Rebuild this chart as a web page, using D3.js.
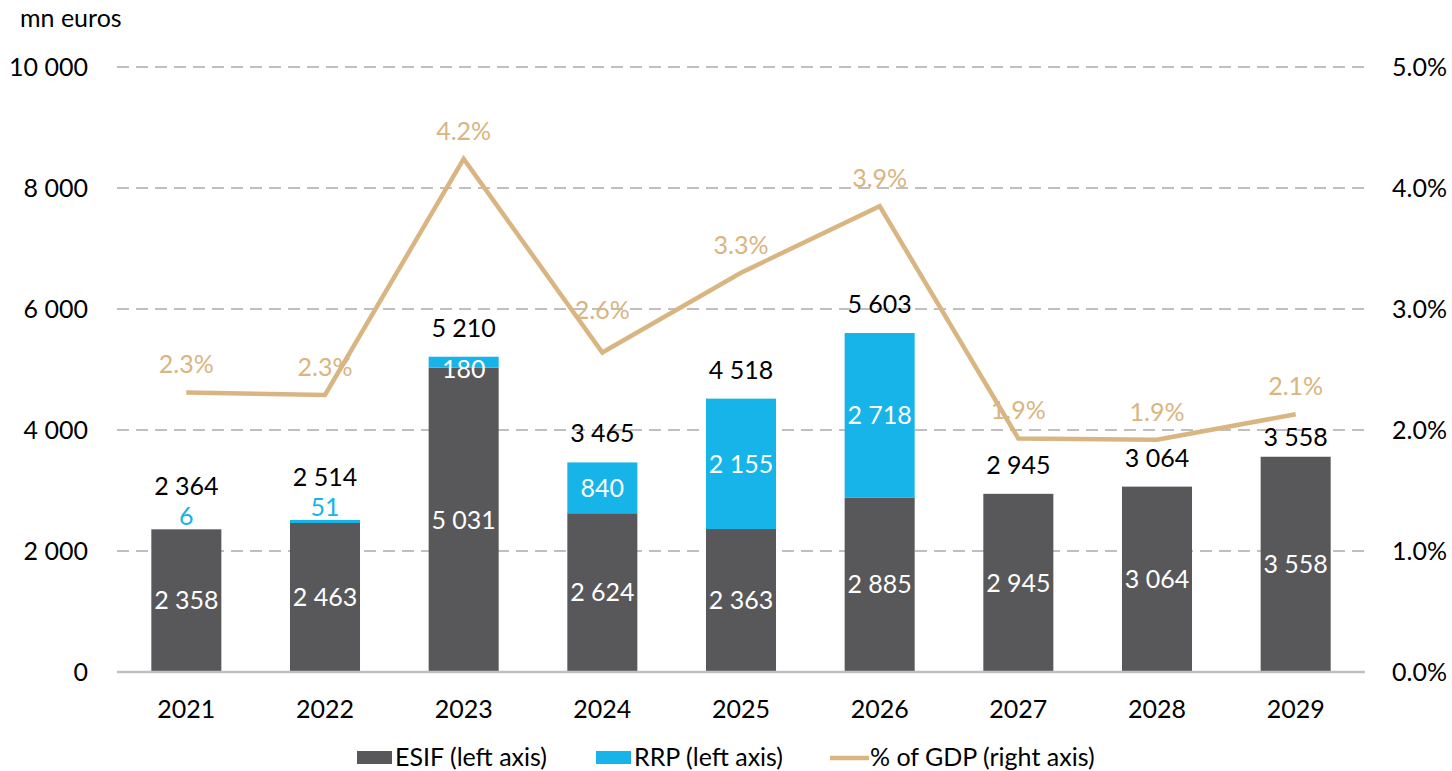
<!DOCTYPE html>
<html>
<head>
<meta charset="utf-8">
<script src="https://cdn.jsdelivr.net/npm/d3@7"></script>
<style>
  html, body { margin: 0; padding: 0; background: #fff; }
  svg { display: block; font-family: Lato, "Open Sans", sans-serif; }
</style>
</head>
<body>
<svg id="chart" width="1452" height="771"></svg>
<script>
const years = ["2021","2022","2023","2024","2025","2026","2027","2028","2029"];
const esif = [2358, 2463, 5031, 2624, 2363, 2885, 2945, 3064, 3558];
const rrp = [6, 51, 180, 840, 2155, 2718, 0, 0, 0];
const totals = [2364, 2514, 5210, 3465, 4518, 5603, 2945, 3064, 3558];
const gdpPct = [2.31, 2.29, 4.24, 2.64, 3.30, 3.85, 1.93, 1.92, 2.13];
const leftTicks = [0, 2000, 4000, 6000, 8000, 10000];
const rightTicks = [0, 1, 2, 3, 4, 5];
const seriesNames = ["ESIF (left axis)", "RRP (left axis)", "% of GDP (right axis)"];

const C_ESIF = "#58585A", C_RRP = "#16B4E8", C_LINE = "#D9B582", C_GRID = "#BFBFBF";
const FS = 25;
const svg = d3.select("#chart");

const x = d3.scaleBand().domain(years).range([117, 1365]).paddingInner(0.495).paddingOuter(0.2475);
const yL = d3.scaleLinear().domain([0, 10000]).range([672, 67]);
const yR = d3.scaleLinear().domain([0, 5]).range([672, 67]);
const fmt = v => d3.format(",")(v).replace(/,/g, " ");

// gridlines
svg.append("g").selectAll("line").data(leftTicks.filter(d => d > 0)).join("line")
  .attr("x1", 117).attr("x2", 1365)
  .attr("y1", d => yL(d)).attr("y2", d => yL(d))
  .attr("stroke", C_GRID).attr("stroke-width", 2).attr("stroke-dasharray", "12,7");

// left axis
const axL = svg.append("g").attr("transform", "translate(117,0)")
  .call(d3.axisLeft(yL).tickValues(leftTicks).tickSize(0).tickPadding(29).tickFormat(fmt));
axL.select(".domain").remove();
axL.selectAll("text").attr("font-size", FS).attr("fill", "#000").attr("font-family", "Lato");

// right axis
const axR = svg.append("g").attr("transform", "translate(1365,0)")
  .call(d3.axisRight(yR).tickValues(rightTicks).tickSize(0).tickPadding(27).tickFormat(d => d.toFixed(1) + "%"));
axR.select(".domain").remove();
axR.selectAll("text").attr("font-size", FS).attr("fill", "#000").attr("font-family", "Lato");

// x axis
const axX = svg.append("g").attr("transform", "translate(0,672)")
  .call(d3.axisBottom(x).tickSize(0).tickPadding(28));
axX.select(".domain").remove();
axX.selectAll("text").attr("font-size", FS).attr("fill", "#000").attr("font-family", "Lato");

// unit label
svg.append("text").attr("x", 20).attr("y", 27).attr("font-size", FS).text("mn euros");

// bars
const data = years.map((y, i) => ({ year: y, esif: esif[i], rrp: rrp[i], total: totals[i], pct: gdpPct[i] }));
const bars = svg.append("g");
bars.selectAll("rect.esif").data(data).join("rect").attr("class", "esif")
  .attr("x", d => x(d.year)).attr("width", x.bandwidth())
  .attr("y", d => yL(d.esif)).attr("height", d => yL(0) - yL(d.esif)).attr("fill", C_ESIF);
bars.selectAll("rect.rrp").data(data.filter(d => d.rrp > 0)).join("rect").attr("class", "rrp")
  .attr("x", d => x(d.year)).attr("width", x.bandwidth())
  .attr("y", d => yL(d.esif + d.rrp)).attr("height", d => yL(d.esif) - yL(d.esif + d.rrp)).attr("fill", C_RRP);

// zero line
svg.append("line").attr("x1", 117).attr("x2", 1365).attr("y1", 672).attr("y2", 672)
  .attr("stroke", C_GRID).attr("stroke-width", 2.5);

const cx = d => x(d.year) + x.bandwidth() / 2;
const barTop = d => yL(d.esif + d.rrp);
const labels = svg.append("g").attr("font-size", FS).attr("text-anchor", "middle");

// ESIF labels
labels.selectAll("text.le").data(data).join("text").attr("class", "le")
  .attr("x", cx).attr("y", d => (yL(0) + yL(d.esif)) / 2).attr("dy", "0.35em")
  .attr("fill", "#fff").text(d => fmt(d.esif));

// RRP labels
labels.selectAll("text.lr").data(data.filter(d => d.rrp > 0)).join("text").attr("class", "lr")
  .attr("x", cx)
  .attr("y", d => {
    if (d.rrp < 100) return barTop(d) - 4;
    return Math.max((yL(d.esif) + barTop(d)) / 2, barTop(d) + 13);
  })
  .attr("dy", d => d.rrp < 100 ? "0em" : "0.35em")
  .attr("fill", d => d.rrp < 100 ? C_RRP : "#fff").text(d => fmt(d.rrp));

// totals
const totalShift = { "2029": 9 };
labels.selectAll("text.lt").data(data).join("text").attr("class", "lt")
  .attr("x", cx)
  .attr("y", d => (d.rrp > 0 && d.rrp < 100 ? barTop(d) - 34 : barTop(d) - 20) + (totalShift[d.year] || 0))
  .attr("fill", "#000").text(d => fmt(d.total));

// line
const line = d3.line().x(cx).y(d => yR(d.pct));
svg.append("path").datum(data).attr("d", line).attr("fill", "none")
  .attr("stroke", C_LINE).attr("stroke-width", 4.5).attr("stroke-linejoin", "miter");

const pctOffset = { "2024": 15 };
labels.selectAll("text.lp").data(data).join("text").attr("class", "lp")
  .attr("x", cx).attr("y", d => yR(d.pct) - 19 - (pctOffset[d.year] || 0))
  .attr("fill", C_LINE).text(d => d.pct.toFixed(1) + "%");

// legend
const leg = svg.append("g").attr("font-size", FS);
const legItems = [
  { name: seriesNames[0], type: "rect", color: C_ESIF, x: 357 },
  { name: seriesNames[1], type: "rect", color: C_RRP, x: 596 },
  { name: seriesNames[2], type: "line", color: C_LINE, x: 830 }
];
legItems.forEach(it => {
  if (it.type === "rect") {
    leg.append("rect").attr("x", it.x).attr("y", 751).attr("width", 35).attr("height", 13).attr("fill", it.color);
  } else {
    leg.append("line").attr("x1", it.x).attr("x2", it.x + 39).attr("y1", 758).attr("y2", 758)
      .attr("stroke", it.color).attr("stroke-width", 4.5);
  }
  leg.append("text").attr("x", it.x + (it.type === "rect" ? 38 : 40)).attr("y", 766).attr("fill", "#000").text(it.name);
});
</script>
</body>
</html>
